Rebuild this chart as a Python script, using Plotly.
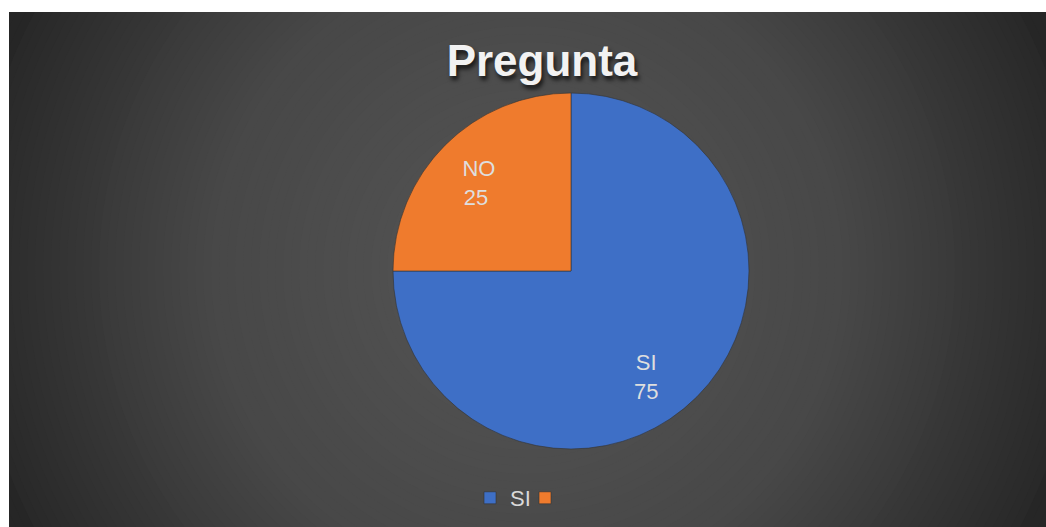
import plotly.graph_objects as go

# ---- data ----
categories = ["SI", "NO"]
values = [75, 25]
legend_labels = ["SI", " "]
slice_colors = ["#3e6fc6", "#ef7b2d"]
title_text = "Pregunta"

W, H = 1046, 527
NB = "\u00a0"
# padding lines / spaces nudge the inside labels toward the reference placement
label_templates = [
    (NB + "<br>") * 3 + NB * 4 + "%{text}<br>" + NB * 4 + "%{value}",
    "%{text}" + NB * 6 + "<br>%{value}" + NB * 7 + "<br>" + NB,
]

fig = go.Figure(
    go.Pie(
        labels=legend_labels,
        values=values,
        text=categories,
        texttemplate=label_templates,
        textposition="inside",
        insidetextorientation="horizontal",
        textfont=dict(family="Liberation Sans, Arial, sans-serif", size=22, color="#dedede"),
        marker=dict(colors=slice_colors, line=dict(color="rgba(50,50,50,0.6)", width=1)),
        sort=False,
        direction="clockwise",
        rotation=0,
        hoverinfo="label+value",
        domain=dict(x=[393 / W, 749 / W], y=[1 - 449 / H, 1 - 93 / H]),
    )
)

# ---- radial gradient background ----
cx, cy = 527, 270


def shade(d):
    if d <= 327:
        v = 86 - 15 * d / 327
    elif d <= 560:
        v = 71 - 31 * (d - 327) / (560 - 327)
    else:
        v = 38
    v = int(round(v))
    return f"rgb({v},{v},{v})"


shapes = [
    dict(type="rect", xref="paper", yref="paper", x0=0, x1=1, y0=0, y1=1,
         fillcolor="rgb(38,38,38)", line=dict(width=0), layer="below")
]
for r in range(620, 0, -8):
    shapes.append(
        dict(
            type="circle", xref="paper", yref="paper",
            x0=(cx - r) / W, x1=(cx + r) / W,
            y0=1 - (cy + r) / H, y1=1 - (cy - r) / H,
            fillcolor=shade(r), line=dict(width=0), layer="below",
        )
    )
# white frame strips (left and top)
shapes.append(dict(type="rect", xref="paper", yref="paper", x0=-0.2, x1=9 / W, y0=-0.2, y1=1.2,
                   fillcolor="white", line=dict(width=0), layer="below"))
shapes.append(dict(type="rect", xref="paper", yref="paper", x0=-0.2, x1=1.2, y0=1 - 12 / H, y1=1.2,
                   fillcolor="white", line=dict(width=0), layer="below"))

fig.update_layout(
    width=W,
    height=H,
    autosize=False,
    margin=dict(l=0, r=0, t=0, b=0),
    paper_bgcolor="white",
    plot_bgcolor="rgba(0,0,0,0)",
    shapes=shapes,
    title=dict(
        text="<b>" + title_text + "</b>",
        x=542 / W,
        xanchor="center",
        y=1 - 61 / H,
        yanchor="middle",
        font=dict(family="Liberation Sans, Arial, sans-serif", size=44, color="#f2f2f2",
                  shadow="2px 4px 4px rgba(0,0,0,0.7)"),
    ),
    showlegend=True,
    legend=dict(
        orientation="h",
        x=470 / W,
        xanchor="left",
        y=1 - 498 / H,
        yanchor="middle",
        font=dict(family="Liberation Sans, Arial, sans-serif", size=22, color="#d9d9d9"),
        bgcolor="rgba(0,0,0,0)",
        itemwidth=30,
        entrywidth=10,
    ),
)

fig.write_html(
    "out.html",
    config={"displayModeBar": False},
    post_script="document.body.style.margin='0';document.body.style.overflow='hidden';",
)
